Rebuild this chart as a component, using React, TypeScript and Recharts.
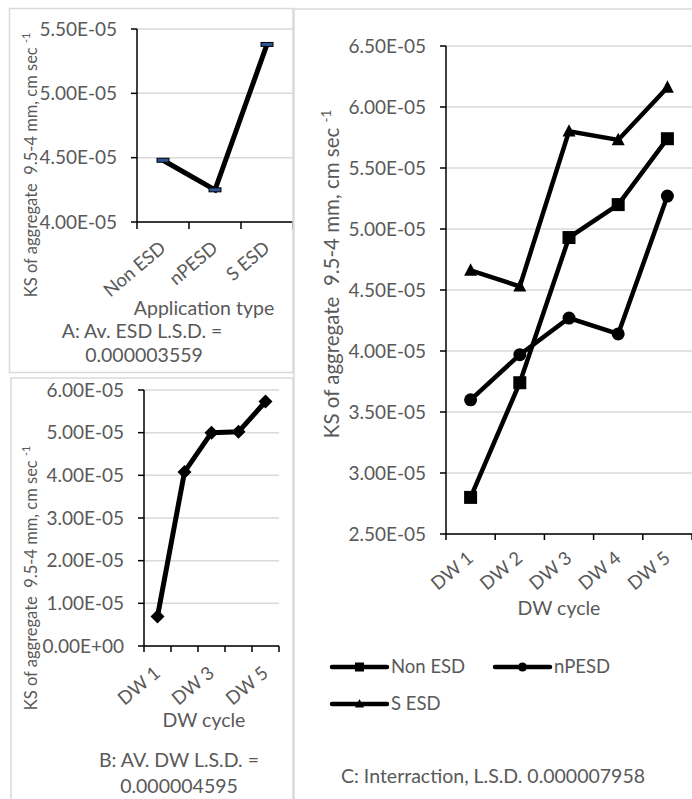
import React from 'react';
import { LineChart, Line, XAxis, YAxis, CartesianGrid } from 'recharts';

// A: average by application type
const appTypes = ['Non ESD', 'nPESD', 'S ESD'];
const appTypeKs = [4.48e-5, 4.25e-5, 5.38e-5];
const aTicks = [4.0e-5, 4.5e-5, 5.0e-5, 5.5e-5];

// B: average by DW cycle
const dwCycles = ['DW 1', 'DW 2', 'DW 3', 'DW 4', 'DW 5'];
const dwKs = [0.69e-5, 4.08e-5, 5.0e-5, 5.02e-5, 5.73e-5];
const bTicks = [0, 1e-5, 2e-5, 3e-5, 4e-5, 5e-5, 6e-5];

// C: interaction
const seriesNames = ['Non ESD', 'nPESD', 'S ESD'];
const nonEsdKs = [2.80e-5, 3.74e-5, 4.93e-5, 5.20e-5, 5.74e-5];
const nPesdKs = [3.60e-5, 3.97e-5, 4.27e-5, 4.14e-5, 5.27e-5];
const sEsdKs = [4.66e-5, 4.53e-5, 5.80e-5, 5.73e-5, 6.16e-5];
const cTicks = [2.5e-5, 3.0e-5, 3.5e-5, 4.0e-5, 4.5e-5, 5.0e-5, 5.5e-5, 6.0e-5, 6.5e-5];

const FONT = 'Lato, "Open Sans", sans-serif';
const GREY = '#595959';

const aData = appTypes.map((c, i) => ({ cat: c, ks: appTypeKs[i] }));
const bData = dwCycles.map((c, i) => ({ cat: c, ks: dwKs[i] }));
const cData = dwCycles.map((c, i) => ({ cat: c, s0: nonEsdKs[i], s1: nPesdKs[i], s2: sEsdKs[i] }));

const sci = (v: number) => {
  if (v === 0) return '0.00E+00';
  const [m, e] = v.toExponential(2).split('e');
  const n = parseInt(e, 10);
  return `${m}E${n < 0 ? '-' : '+'}${String(Math.abs(n)).padStart(2, '0')}`;
};

// excel style category ticks: marks between categories, rotated labels
const makeTick = (band: number, n: number, every: number, len: number, dy: number) => (props: any) => {
  const { x, y, payload, index } = props;
  const tx = x + 4;
  const ty = y + dy;
  return (
    <g>
      <line x1={x - band / 2} y1={y} x2={x - band / 2} y2={y + len} stroke="#000" strokeWidth={1.5} />
      {index === n - 1 && (
        <line x1={x + band / 2} y1={y} x2={x + band / 2} y2={y + len} stroke="#000" strokeWidth={1.5} />
      )}
      {index % every === 0 && (
        <text x={tx} y={ty} transform={`rotate(-40 ${tx} ${ty})`} textAnchor="end"
          fill={GREY} fontSize={18.5} fontFamily={FONT}>{payload.value}</text>
      )}
    </g>
  );
};

const dashDot = (p: any) => (
  <rect key={p.index} x={p.cx - 6} y={p.cy - 2} width={12} height={4} fill="#2e5597" stroke="#000" strokeWidth={1} />
);
const diamondDot = (p: any) => (
  <polygon key={p.index} points={`${p.cx},${p.cy - 7} ${p.cx + 7},${p.cy} ${p.cx},${p.cy + 7} ${p.cx - 7},${p.cy}`} fill="#000" />
);
const squareShape = (cx: number, cy: number, s: number, k?: any) => (
  <rect key={k} x={cx - s / 2} y={cy - s / 2} width={s} height={s} fill="#000" />
);
const circleShape = (cx: number, cy: number, s: number, k?: any) => (
  <circle key={k} cx={cx} cy={cy} r={s / 2} fill="#000" />
);
const triShape = (cx: number, cy: number, s: number, k?: any) => (
  <polygon key={k} points={`${cx},${cy - s * 0.55} ${cx + s / 2},${cy + s * 0.4} ${cx - s / 2},${cy + s * 0.4}`} fill="#000" />
);
const shapes = [squareShape, circleShape, triShape];

const yAxisProps = {
  type: 'number' as const,
  interval: 0 as const,
  tickFormatter: sci,
  tick: { fill: GREY, fontSize: 19, fontFamily: FONT },
  axisLine: { stroke: '#000', strokeWidth: 1.5 },
  tickLine: { stroke: '#000', strokeWidth: 1.5 },
  tickSize: 6,
  tickMargin: 14,
};

const YTitle = ({ x, y, size }: { x: number; y: number; size: number }) => (
  <text transform={`translate(${x} ${y}) rotate(-90)`} textAnchor="middle" fill={GREY} fontSize={size} fontFamily={FONT}>
    {'KS of aggregate\u00a0\u00a09.5-4 mm, cm sec '}
    <tspan fontSize={size * 0.65} dy={-size * 0.4}>-1</tspan>
  </text>
);

const Txt = ({ x, y, children, size = 19.5 }: any) => (
  <text x={x} y={y} textAnchor="middle" fill={GREY} fontSize={size} fontFamily={FONT}>{children}</text>
);

const legendPos = [[332, 667], [495, 667], [332, 704]];

export default function App() {
  return (
    <div style={{ position: 'absolute', left: 0, top: 0, width: 692, height: 799, background: '#fff', overflow: 'hidden' }}>
      {/* A */}
      <div style={{ position: 'absolute', left: 10, top: 8 }}>
        <LineChart width={283} height={365} data={aData} margin={{ top: 21, right: 0, bottom: 0, left: 0 }}>
          <CartesianGrid vertical={false} stroke="#d9d9d9" strokeWidth={1.5} />
          <XAxis dataKey="cat" scale="band" interval={0} height={151} tickSize={0} tickMargin={0}
            tickLine={false} axisLine={{ stroke: '#000', strokeWidth: 1.5 }}
            tick={makeTick(156 / 3, 3, 1, 7, 28)} />
          <YAxis {...yAxisProps} width={127} domain={[4.0e-5, 5.5e-5]} ticks={aTicks} />
          <Line type="linear" dataKey="ks" stroke="#000" strokeWidth={5} dot={dashDot} activeDot={false} isAnimationActive={false} />
        </LineChart>
      </div>
      {/* B */}
      <div style={{ position: 'absolute', left: 10, top: 378 }}>
        <LineChart width={283} height={421} data={bData} margin={{ top: 12, right: 14, bottom: 0, left: 0 }}>
          <CartesianGrid vertical={false} stroke="#d9d9d9" strokeWidth={1.5} />
          <XAxis dataKey="cat" scale="band" interval={0} height={153} tickSize={0} tickMargin={0}
            tickLine={false} axisLine={{ stroke: '#000', strokeWidth: 1.5 }}
            tick={makeTick(135 / 5, 5, 2, 6, 29)} />
          <YAxis {...yAxisProps} width={134} domain={[0, 6e-5]} ticks={bTicks} />
          <Line type="linear" dataKey="ks" stroke="#000" strokeWidth={5} dot={diamondDot} activeDot={false} isAnimationActive={false} />
        </LineChart>
      </div>
      {/* C */}
      <div style={{ position: 'absolute', left: 293, top: 9 }}>
        <LineChart width={399} height={790} data={cData} margin={{ top: 37, right: 0, bottom: 0, left: 0 }}>
          <CartesianGrid vertical={false} stroke="#d9d9d9" strokeWidth={1.5} />
          <XAxis dataKey="cat" scale="band" interval={0} height={265} tickSize={0} tickMargin={0}
            tickLine={false} axisLine={{ stroke: '#000', strokeWidth: 1.5 }}
            tick={makeTick(246 / 5, 5, 1, 6, 26)} />
          <YAxis {...yAxisProps} width={153} domain={[2.5e-5, 6.5e-5]} ticks={cTicks} />
          {seriesNames.map((name, i) => (
            <Line key={name} name={name} type="linear" dataKey={`s${i}`} stroke="#000" strokeWidth={4.5}
              dot={(p: any) => shapes[i](p.cx, p.cy, 13, p.index)} activeDot={false} isAnimationActive={false} />
          ))}
        </LineChart>
      </div>
      {/* frames, titles, legend */}
      <svg width={692} height={799} style={{ position: 'absolute', left: 0, top: 0, pointerEvents: 'none' }}>
        <rect x={9.5} y={8.5} width={283.5} height={364} fill="none" stroke="#d9d9d9" strokeWidth={1.5} />
        <rect x={11} y={378} width={282} height={440} fill="none" stroke="#d9d9d9" strokeWidth={1.5} />
        <rect x={294} y={9} width={420} height={820} fill="none" stroke="#d9d9d9" strokeWidth={1.5} />

        <YTitle x={37} y={165} size={16.5} />
        <YTitle x={37} y={578} size={16.5} />
        <YTitle x={339} y={274} size={20.5} />

        <Txt x={204} y={315}>Application type</Txt>
        <Txt x={142} y={338}>A: Av. ESD L.S.D. =</Txt>
        <Txt x={144} y={362}>0.000003559</Txt>

        <Txt x={204} y={727}>DW cycle</Txt>
        <Txt x={179} y={767}>B: AV. DW L.S.D. =</Txt>
        <Txt x={179} y={793}>0.000004595</Txt>

        <Txt x={559} y={615}>DW cycle</Txt>
        <Txt x={493} y={783}>C: Interraction, L.S.D. 0.000007958</Txt>

        {seriesNames.map((name, i) => {
          const [lx, ly] = legendPos[i];
          return (
            <g key={name}>
              <line x1={lx} y1={ly} x2={lx + 55} y2={ly} stroke="#000" strokeWidth={4.5} strokeLinecap="round" />
              {shapes[i](lx + 27.5, ly, 9)}
              <text x={lx + 59} y={ly + 6} fill={GREY} fontSize={18.5} fontFamily={FONT}>{name}</text>
            </g>
          );
        })}
      </svg>
    </div>
  );
}
